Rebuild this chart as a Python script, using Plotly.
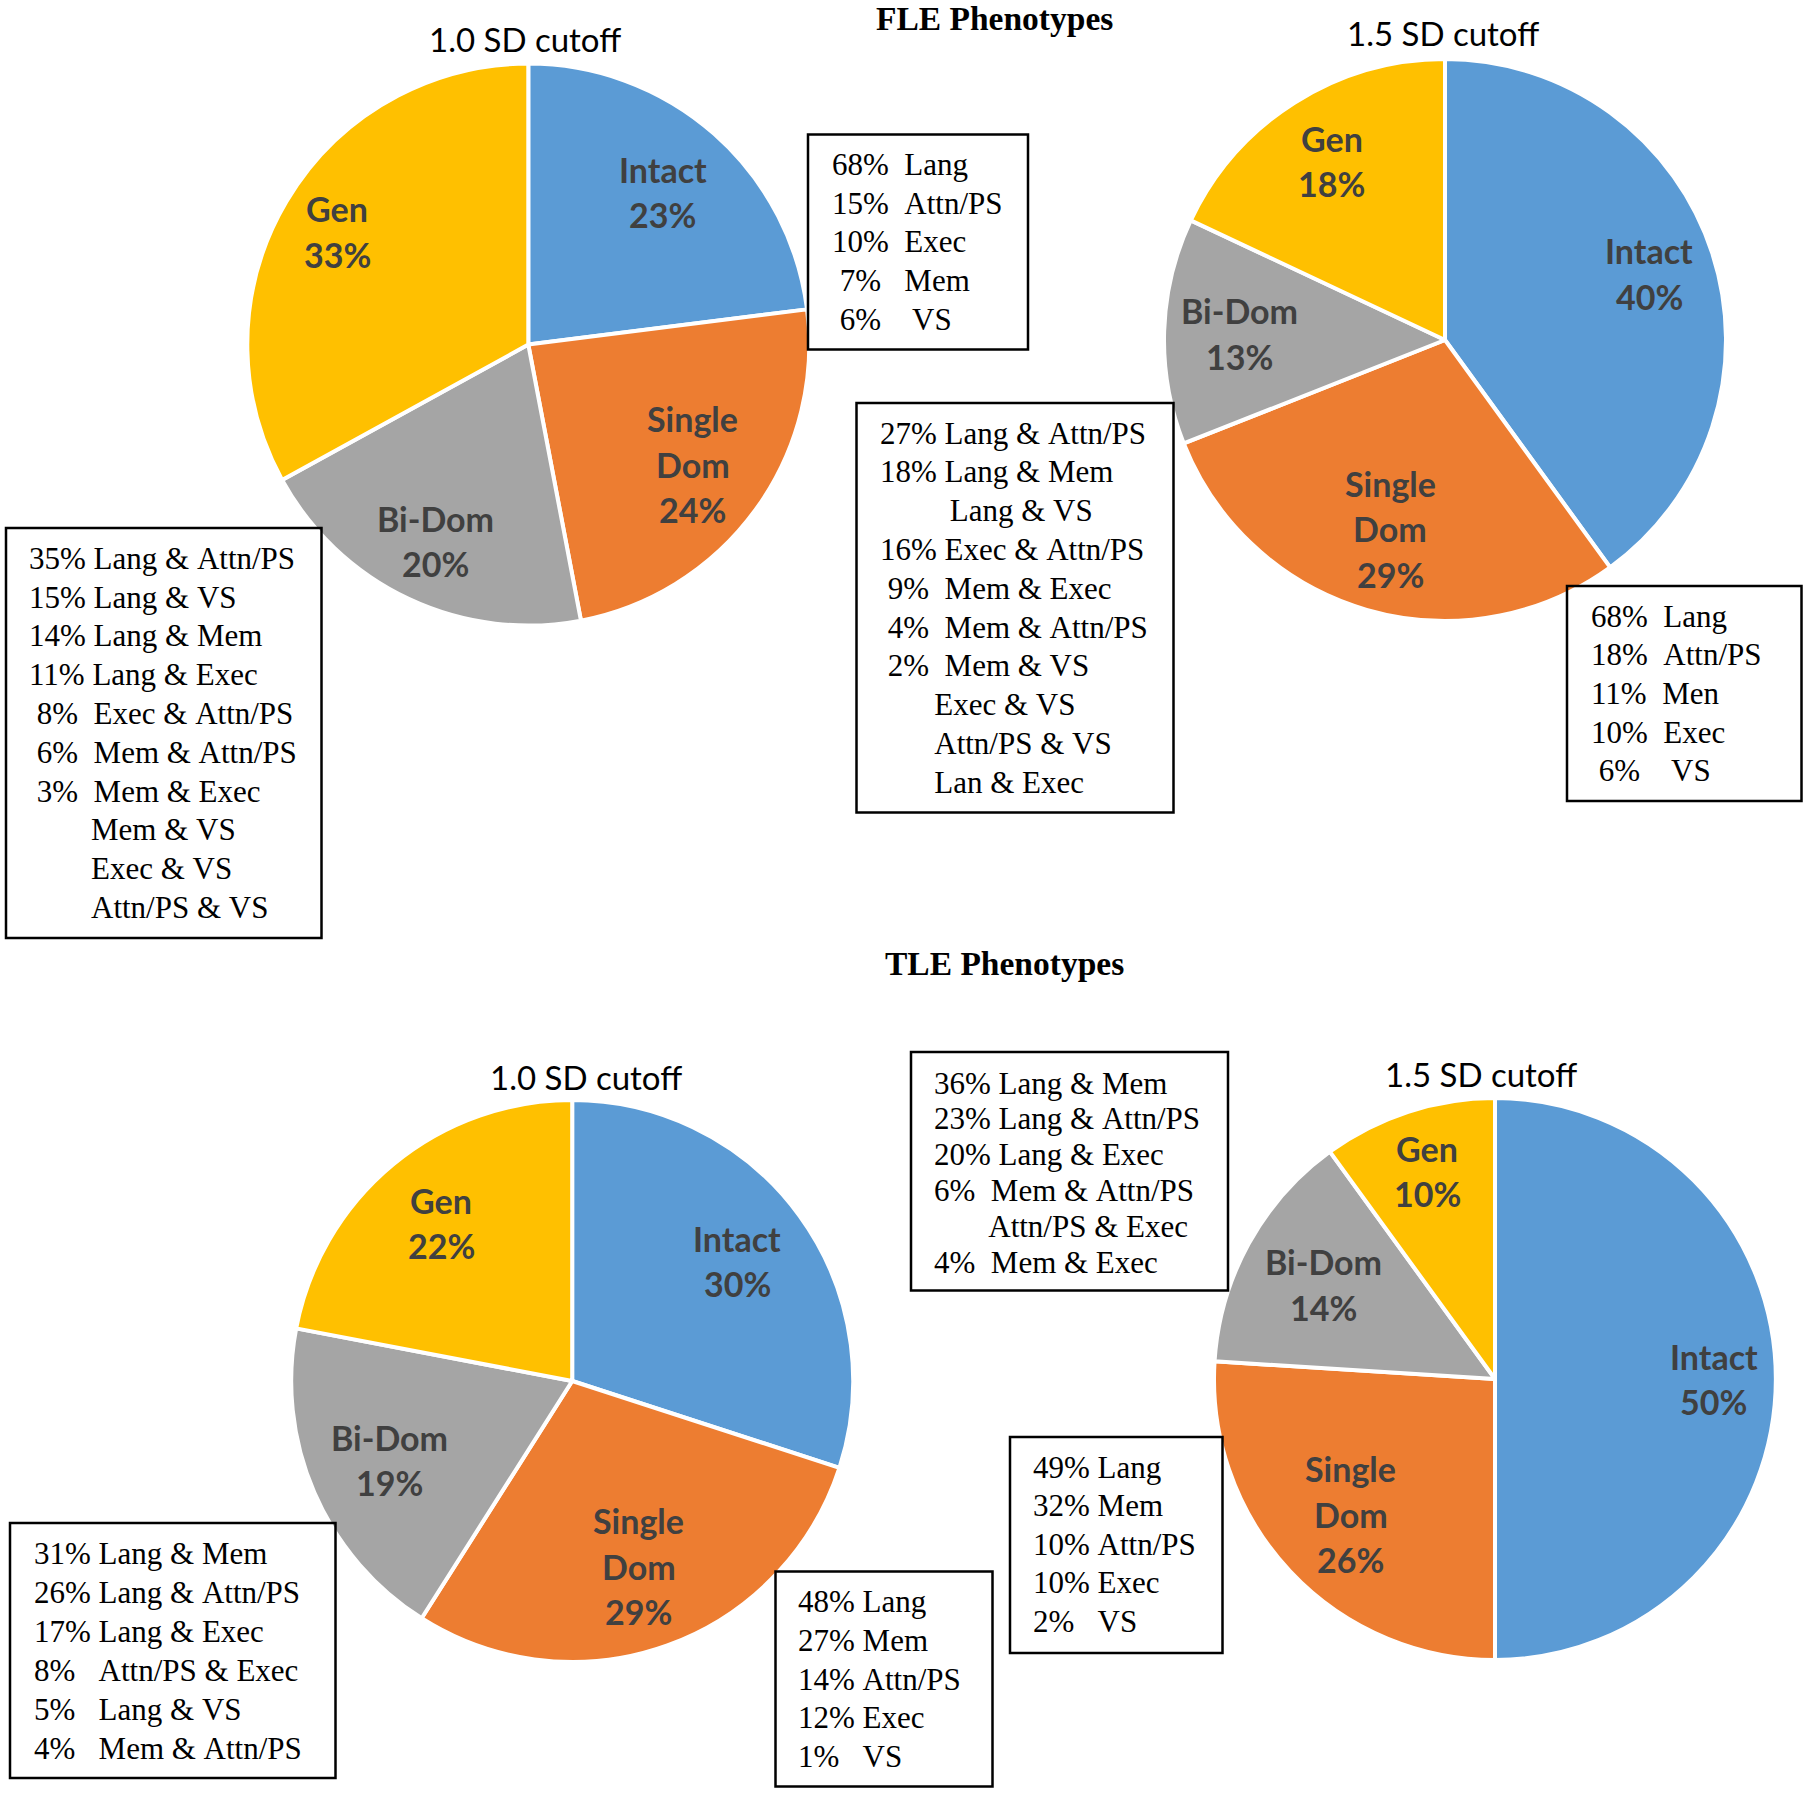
import math
import plotly.graph_objects as go

W, H = 1806, 1820

# ---------------- data ----------------
categories = ["Intact", "Single Dom", "Bi-Dom", "Gen"]
fle_10sd = [23, 24, 20, 33]
fle_15sd = [40, 29, 13, 18]
tle_10sd = [30, 29, 19, 22]
tle_15sd = [50, 26, 14, 10]

titles = ["FLE Phenotypes", "TLE Phenotypes"]
subtitles = ["1.0 SD cutoff", "1.5 SD cutoff", "1.0 SD cutoff", "1.5 SD cutoff"]

fle_10sd_single_dom = ["68%  Lang", "15%  Attn/PS", "10%  Exec", " 7%   Mem", " 6%    VS"]
fle_10sd_bi_dom = ["35% Lang & Attn/PS", "15% Lang & VS", "14% Lang & Mem", "11% Lang & Exec",
                   " 8%  Exec & Attn/PS", " 6%  Mem & Attn/PS", " 3%  Mem & Exec",
                   "        Mem & VS", "        Exec & VS", "        Attn/PS & VS"]
fle_15sd_bi_dom = ["27% Lang & Attn/PS", "18% Lang & Mem", "         Lang & VS",
                   "16% Exec & Attn/PS", " 9%  Mem & Exec", " 4%  Mem & Attn/PS",
                   " 2%  Mem & VS", "       Exec & VS", "       Attn/PS & VS", "       Lan & Exec"]
fle_15sd_single_dom = ["68%  Lang", "18%  Attn/PS", "11%  Men", "10%  Exec", " 6%    VS"]
tle_15sd_bi_dom = ["36% Lang & Mem", "23% Lang & Attn/PS", "20% Lang & Exec",
                   "6%  Mem & Attn/PS", "       Attn/PS & Exec", "4%  Mem & Exec"]
tle_10sd_bi_dom = ["31% Lang & Mem", "26% Lang & Attn/PS", "17% Lang & Exec",
                   "8%   Attn/PS & Exec", "5%   Lang & VS", "4%   Mem & Attn/PS"]
tle_10sd_single_dom = ["48% Lang", "27% Mem", "14% Attn/PS", "12% Exec", "1%   VS"]
tle_15sd_single_dom = ["49% Lang", "32% Mem", "10% Attn/PS", "10% Exec", "2%   VS"]

# ---------------- style / layout ----------------
colors = ["#5B9BD5", "#ED7D31", "#A5A5A5", "#FFC000"]
label_lines = {"Intact": ["Intact"], "Single Dom": ["Single", "Dom"],
               "Bi-Dom": ["Bi-Dom"], "Gen": ["Gen"]}
R = 281
panels = [
    dict(values=fle_10sd, c=(528.3, 344.6), sub=(525, 39), rf=[0.724, 0.724, 0.773, 0.79]),
    dict(values=fle_15sd, c=(1445.0, 340.0), sub=(1443, 33), rf=[0.765, 0.70, 0.73, 0.753]),
    dict(values=tle_10sd, c=(572.2, 1381.0), sub=(586, 1077), rf=[0.727, 0.70, 0.707, 0.73]),
    dict(values=tle_15sd, c=(1495.0, 1379.0), sub=(1481, 1074), rf=[0.778, 0.703, 0.697, 0.778]),
]
title_pos = [(995, 18.5), (1004, 963)]

boxes = [
    dict(lines=fle_10sd_single_dom, rect=(808, 134.5, 1028, 349.5), tx=831, y0=164.8, dy=38.6),
    dict(lines=fle_10sd_bi_dom, rect=(6, 528, 321.5, 938), tx=28, y0=558.3, dy=38.8),
    dict(lines=fle_15sd_bi_dom, rect=(856.5, 403, 1173.5, 812.5), tx=878.6, y0=433, dy=38.8),
    dict(lines=fle_15sd_single_dom, rect=(1567, 586, 1801.5, 801), tx=1590.2, y0=616.3, dy=38.6),
    dict(lines=tle_15sd_bi_dom, rect=(911, 1052, 1228, 1290.5), tx=933, y0=1083, dy=35.8),
    dict(lines=tle_10sd_bi_dom, rect=(10, 1523, 335.5, 1778), tx=33, y0=1553, dy=39),
    dict(lines=tle_10sd_single_dom, rect=(775.5, 1571.5, 992.5, 1786.5), tx=797.4, y0=1601.8, dy=38.6),
    dict(lines=tle_15sd_single_dom, rect=(1010, 1437, 1222.5, 1653), tx=1031.9, y0=1467.1, dy=38.6),
]

def px(x):
    return x / W

def py(y):
    return 1 - y / H

fig = go.Figure()
annotations = []
shapes = []

LABEL_FONT = dict(family="Lato", size=34, color="#404040", weight="bold")
LABEL_DY = 45.3

for i, p in enumerate(panels):
    cx, cy = p["c"]
    fig.add_trace(go.Pie(
        labels=categories, values=p["values"], sort=False, direction="clockwise",
        rotation=0, marker=dict(colors=colors, line=dict(color="white", width=4)),
        textinfo="none", hoverinfo="label+percent", showlegend=False,
        domain=dict(x=[px(cx - R), px(cx + R)], y=[py(cy + R), py(cy - R)]),
    ))
    total = sum(p["values"])
    cum = 0
    for j, (cat, v) in enumerate(zip(categories, p["values"])):
        theta = 2 * math.pi * (cum + v / 2) / total
        cum += v
        lx = cx + R * p["rf"][j] * math.sin(theta)
        ly = cy - R * p["rf"][j] * math.cos(theta)
        lines = label_lines[cat] + [f"{v}%"]
        n = len(lines)
        for k, t in enumerate(lines):
            yy = ly + (k - (n - 1) / 2) * LABEL_DY
            annotations.append(dict(x=px(lx), y=py(yy), xref="paper", yref="paper",
                                    text=t, showarrow=False, xanchor="center", yanchor="middle",
                                    borderpad=0, font=LABEL_FONT))
    sx, sy = p["sub"]
    annotations.append(dict(x=px(sx), y=py(sy), xref="paper", yref="paper", text=subtitles[i],
                            showarrow=False, xanchor="center", yanchor="middle", borderpad=0,
                            font=dict(family="Lato", size=33, color="#000000")))

for t, (tx, ty) in zip(titles, title_pos):
    annotations.append(dict(x=px(tx), y=py(ty), xref="paper", yref="paper", text=f"<b>{t}</b>",
                            showarrow=False, xanchor="center", yanchor="middle", borderpad=0,
                            font=dict(family="Liberation Serif", size=33.5, color="#000000")))

for b in boxes:
    x0, y0, x1, y1 = b["rect"]
    shapes.append(dict(type="rect", xref="paper", yref="paper",
                       x0=px(x0), x1=px(x1), y0=py(y1), y1=py(y0),
                       line=dict(color="#000000", width=2.5), fillcolor="rgba(255,255,255,0)"))
    for k, line in enumerate(b["lines"]):
        annotations.append(dict(x=px(b["tx"]), y=py(b["y0"] + k * b["dy"]), xref="paper", yref="paper",
                                text=line.replace(" ", "\u00a0"), showarrow=False,
                                xanchor="left", yanchor="middle", borderpad=0,
                                font=dict(family="Liberation Serif", size=31, color="#000000")))

fig.update_layout(width=W, height=H, margin=dict(l=0, r=0, t=0, b=0),
                  paper_bgcolor="white", plot_bgcolor="white",
                  annotations=annotations, shapes=shapes)

fig.write_html("out.html", config={"displayModeBar": False},
               post_script="document.body.style.margin='0';")
